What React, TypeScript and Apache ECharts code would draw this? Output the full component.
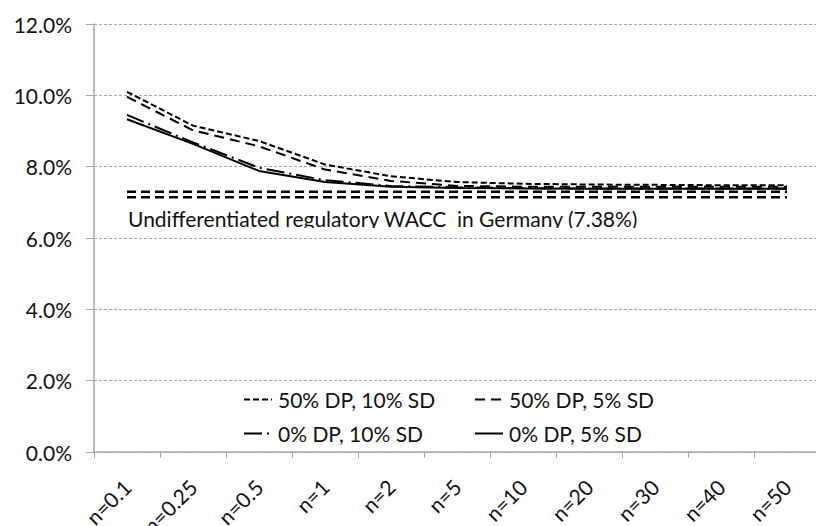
import React, { useEffect, useRef } from "react";
import * as echarts from "echarts";

const categories = ["n=0.1", "n=0.25", "n=0.5", "n=1", "n=2", "n=5", "n=10", "n=20", "n=30", "n=40", "n=50"];
const dp50sd10 = [10.1, 9.15, 8.72, 8.06, 7.73, 7.57, 7.52, 7.5, 7.49, 7.48, 7.48];
const dp50sd5 = [9.96, 9.02, 8.57, 7.92, 7.6, 7.46, 7.44, 7.44, 7.44, 7.44, 7.44];
const dp0sd10 = [9.45, 8.68, 7.97, 7.62, 7.46, 7.42, 7.4, 7.39, 7.39, 7.39, 7.39];
const dp0sd5 = [9.33, 8.64, 7.88, 7.57, 7.44, 7.4, 7.39, 7.38, 7.38, 7.38, 7.38];
const refUpper = [7.3, 7.3, 7.3, 7.3, 7.3, 7.3, 7.3, 7.3, 7.3, 7.3, 7.3];
const refLower = [7.14, 7.14, 7.14, 7.14, 7.14, 7.14, 7.14, 7.14, 7.14, 7.14, 7.14];
const yTicks = { min: 0, max: 12, interval: 2 };
const seriesNames = ["50% DP, 10% SD", "50% DP, 5% SD", "0% DP, 10% SD", "0% DP, 5% SD"];
const annotation = "Undifferentiated regulatory WACC  in Germany (7.38%)";

const FONT = "Lato";
const FS = 21;

export default function App() {
  const ref = useRef<HTMLDivElement>(null);
  useEffect(() => {
    if (!ref.current) return;
    const chart = echarts.init(ref.current, null, { renderer: "svg" });
    const line = (name: string, data: number[], type: any, width = 2) => ({
      name,
      type: "line",
      data,
      symbol: "none",
      showSymbol: false,
      lineStyle: { color: "#000", width, type },
      itemStyle: { color: "#000" },
      z: 3,
    });
    const legendBase = {
      padding: 0,
      itemWidth: 28,
      itemHeight: 14,
      itemStyle: { opacity: 0 },
      textStyle: { fontFamily: FONT, fontSize: FS, color: "#111", padding: [0, 0, 0, 1] },
      selectedMode: false,
    };
    chart.setOption({
      animation: false,
      grid: { left: 94, right: -4, top: 24, bottom: 74, containLabel: false, outerBoundsMode: "none" },
      xAxis: {
        type: "category",
        data: categories,
        boundaryGap: true,
        axisLine: { lineStyle: { color: "#a6a6a6", width: 1.5 } },
        axisTick: { show: true, length: 6, interval: 0, lineStyle: { color: "#a6a6a6" } },
        axisLabel: {
          interval: 0,
          rotate: 45,
          margin: 31,
          fontFamily: FONT,
          fontSize: FS,
          color: "#111",
        },
        splitLine: { show: false },
      },
      yAxis: {
        type: "value",
        min: yTicks.min,
        max: yTicks.max,
        interval: yTicks.interval,
        axisLine: { show: true, lineStyle: { color: "#a6a6a6", width: 1.5 } },
        axisTick: { show: true, length: 8, lineStyle: { color: "#a6a6a6" } },
        axisLabel: {
          formatter: (v: number) => v.toFixed(1) + "%",
          margin: 22,
          fontFamily: FONT,
          fontSize: FS,
          color: "#111",
        },
        splitLine: { show: true, lineStyle: { color: "#a6a6a6", type: [3, 2], width: 1 } },
      },
      legend: [
        { ...legendBase, data: [seriesNames[0]], left: 243, top: 389 },
        { ...legendBase, data: [seriesNames[1]], left: 474, top: 389 },
        { ...legendBase, data: [seriesNames[2]], left: 243, top: 423 },
        { ...legendBase, data: [seriesNames[3]], left: 474, top: 423 },
      ],
      series: [
        line(seriesNames[0], dp50sd10, [6, 3]),
        line(seriesNames[1], dp50sd5, [10, 6]),
        line(seriesNames[2], dp0sd10, [18, 5, 2, 5]),
        line(seriesNames[3], dp0sd5, "solid"),
        { ...line("refUpper", refUpper, [9, 5], 2.5), silent: true },
        { ...line("refLower", refLower, [9, 5], 2.5), silent: true },
      ],
      graphic: [
        {
          type: "text",
          left: 128,
          top: 208,
          z: 10,
          style: { text: annotation, font: `${FS}px ${FONT}`, fill: "#111" },
        },
        {
          type: "rect",
          left: 124,
          top: 228,
          z: 11,
          shape: { width: 530, height: 8 },
          style: { fill: "#fff" },
        },
      ],
    });
    return () => chart.dispose();
  }, []);
  return (
    <div
      ref={ref}
      style={{ position: "fixed", left: 0, top: 0, width: 816, height: 526, background: "#fff" }}
    />
  );
}
